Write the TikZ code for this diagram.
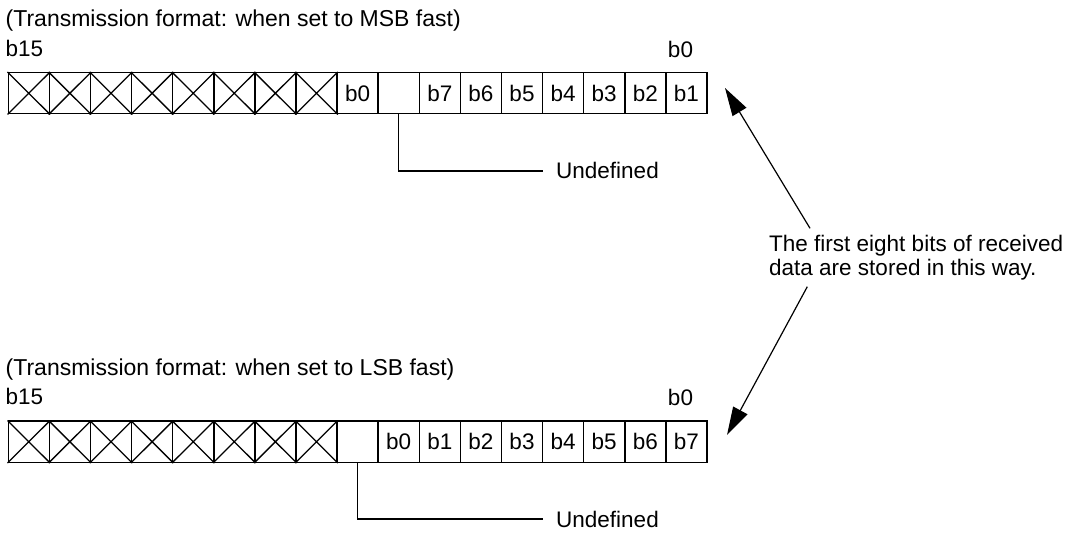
\documentclass[tikz,border=0pt]{standalone}
\usepackage{fontspec}
\setmainfont{Liberation Sans}
\usetikzlibrary{arrows.meta,calc}
\begin{document}
\begin{tikzpicture}[x=1pt,y=-1pt,
  txt/.style={inner sep=0pt, font=\fontsize{22.5}{23.5}\selectfont},
  head/.style={inner sep=0pt, anchor=base west, font=\fontsize{23}{24}\selectfont},
  cell/.style={draw, line width=1.5pt, minimum width=41.1pt, minimum height=41pt,
    inner sep=0pt, anchor=north west, font=\fontsize{22.5}{23.5}\selectfont},
  xout/.style={line width=1.3pt},
  lbl/.style={txt, text height=16pt, text depth=0pt},
  lead/.style={line width=1.3pt},
  ptr/.style={line width=1.2pt, -{Triangle[length=28pt,width=16pt]}}]
\useasboundingbox (0,0) rectangle (1079,534);

% ---- register 1: MSB first ----
\node[head] (h1) at (5.5,26.5) {(Transmission format: when set to MSB fast)};
\node[txt, anchor=base west] (hi1) at (5.5,57) {b15};
\node[txt, anchor=base] (lo1) at (680.5,58) {b0};
\foreach \i/\t in {1/,2/,3/,4/,5/,6/,7/,8/,9/b0,10/,11/b7,12/b6,13/b5,14/b4,15/b3,16/b2,17/b1}
  \node[cell] (t\i) at ({7.5+(\i-1)*41.1},72) {\t};
\foreach \i in {1,...,8}
  \draw[xout] (t\i.north west) -- (t\i.south east) (t\i.north east) -- (t\i.south west);

\node[lbl, anchor=west] (u1) at (556,171) {Undefined};
\draw[lead, shorten >=13pt] (t10.south) |- (u1.west);

% ---- register 2: LSB first ----
\node[head] (h2) at (5.5,375.5) {(Transmission format: when set to LSB fast)};
\node[txt, anchor=base west] (hi2) at (5.5,405) {b15};
\node[txt, anchor=base] (lo2) at (680.5,406) {b0};
\foreach \i/\t in {1/,2/,3/,4/,5/,6/,7/,8/,9/,10/b0,11/b1,12/b2,13/b3,14/b4,15/b5,16/b6,17/b7}
  \node[cell] (b\i) at ({7.5+(\i-1)*41.1},420.5) {\t};
\foreach \i in {1,...,8}
  \draw[xout] (b\i.north west) -- (b\i.south east) (b\i.north east) -- (b\i.south west);

\node[lbl, anchor=west] (u2) at (556,519) {Undefined};
\draw[lead, shorten >=13pt] (b9.south) |- (u2.west);

% ---- note with its two pointers ----
\node[txt, anchor=north west, align=left] (note) at (769,235.3)
  {The first eight bits of received\\data are stored in this way.};
\coordinate (p1) at (725,88);
\coordinate (p2) at (727,435);
\draw[ptr] ($(note.north west)+(41,-7)$) -- (p1);
\draw[ptr] ($(note.north west)+(38.3,51.4)$) -- (p2);
\end{tikzpicture}
\end{document}
